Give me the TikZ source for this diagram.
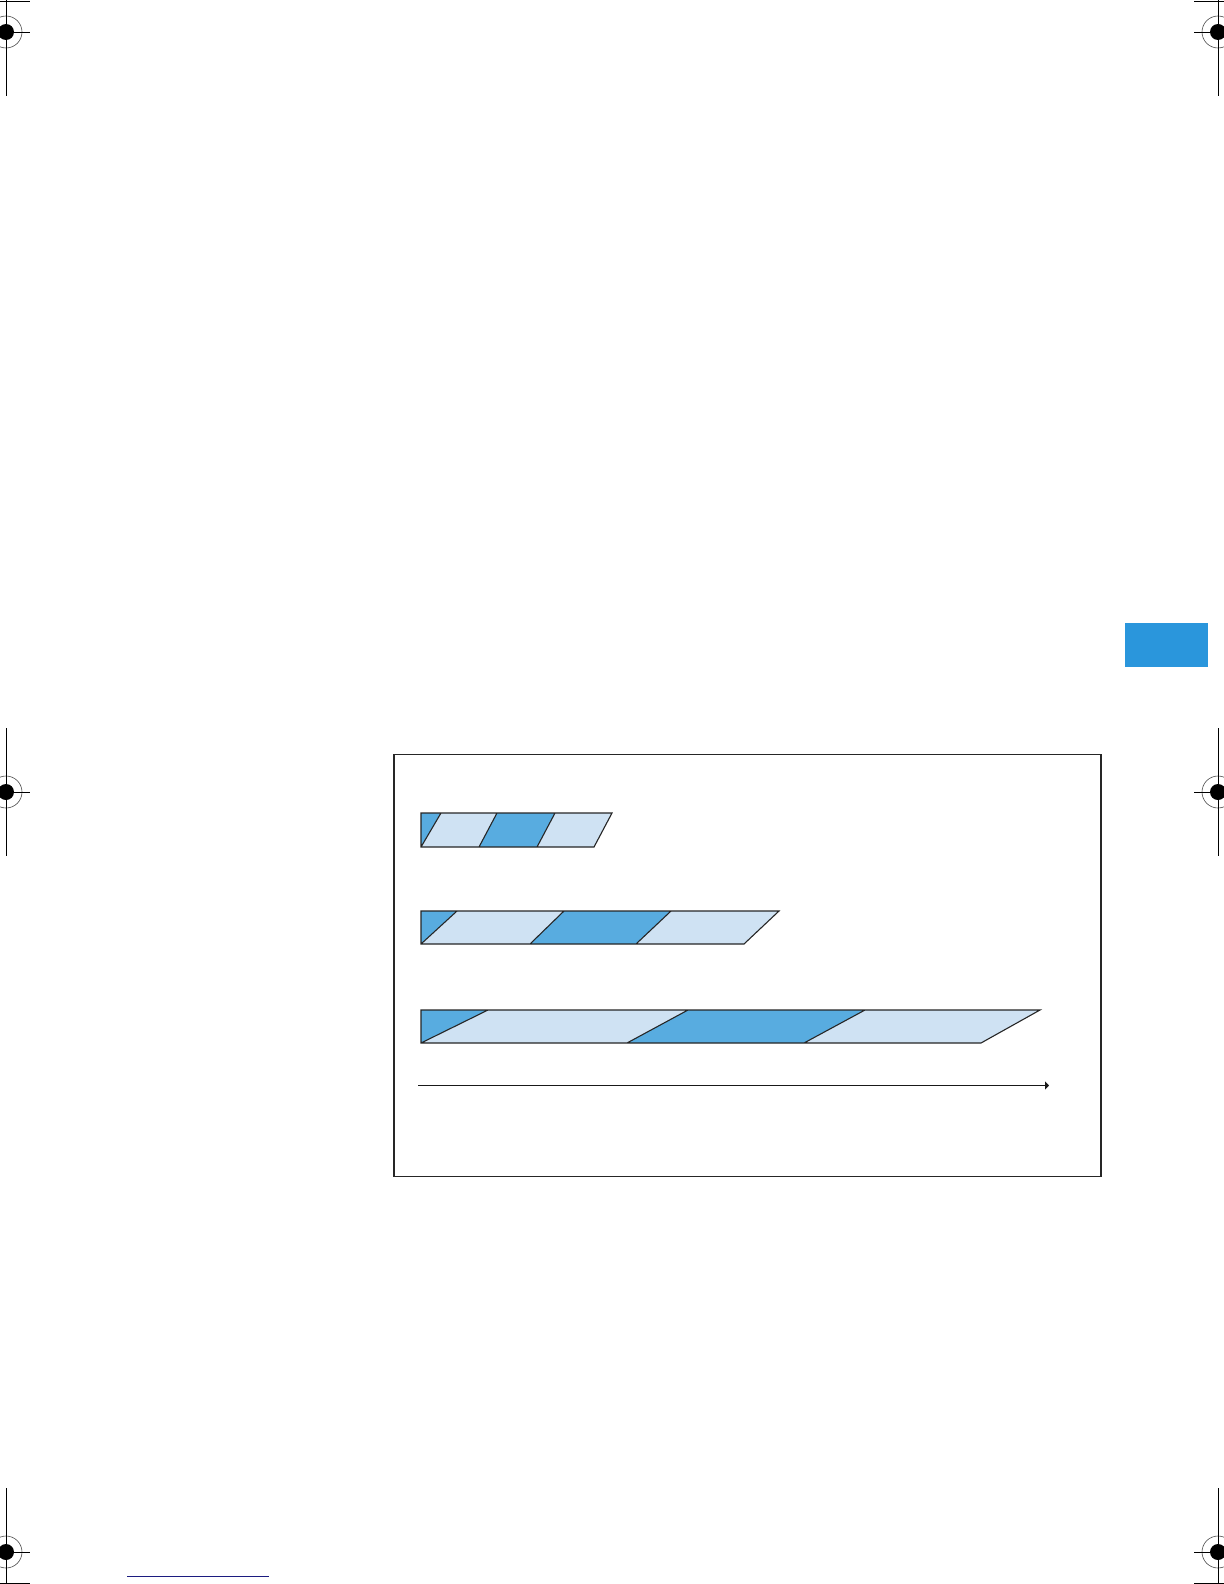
\documentclass[tikz,border=0pt]{standalone}
\usetikzlibrary{arrows.meta}
\definecolor{stripedark}{HTML}{58ACE0}
\definecolor{stripelight}{HTML}{CFE2F3}
\definecolor{tabblue}{HTML}{2A96DC}
\definecolor{rulenavy}{HTML}{1C1C80}

\begin{document}
\begin{tikzpicture}[x=0.5pt, y=-0.5pt,
            frm/.style={draw=black!85, line width=0.75pt},
            darkseg/.style={fill=stripedark},
            lightseg/.style={fill=stripelight},
            barline/.style={draw=black!85, line width=0.55pt, line join=miter},
            axis/.style={draw=black!90, line width=0.5pt, -{Triangle[length=2pt, width=4pt]}},
            reg/.style={draw=black, line width=0.35pt},
            regring/.style={draw=black!70, line width=0.3pt}]
            \useasboundingbox (0,0) rectangle (1224,1584);
            \clip (0,0) rectangle (1224,1584);
            % registration marks
            \foreach \mx/\my in {6/32, 1218/32, 6/792, 1218/792, 6/1552, 1218/1552} {
                \draw[regring] (\mx,\my) circle (16);
                \fill (\mx,\my) circle (8);
                \draw[reg] (\mx-24,\my) -- (\mx+24,\my) (\mx,\my-64) -- (\mx,\my+64);
            }
            \draw[reg] (0,1) -- (30,1) (1194,1) -- (1224,1);
            \draw[reg] (0,1583) -- (30,1583) (1194,1583) -- (1224,1583);
            % tab and footer rule
            \fill[tabblue] (1125,623) rectangle (1208,667);
            \draw[rulenavy, line width=0.5pt] (127,1576) -- (269,1576);
            % frame
            \coordinate (frameNW) at (394,754.5);
            \coordinate (frameSE) at (1101,1176.5);
            \draw[frm] (frameNW) rectangle (frameSE);
            % striped bars
            \foreach \yt/\yb/\xa/\xbb/\xbt/\xcb/\xct/\xdb/\xdt in {
                    813/847/441/479/497/537/555/594/612,
                    911/944/457/530/564/636/671/744/779,
                    1010/1043/488/627/688/804/865/981/1040} {
                \fill[darkseg] (421,\yt) -- (\xa,\yt) -- (421,\yb) -- cycle;
                \fill[lightseg] (\xa,\yt) -- (\xbt,\yt) -- (\xbb,\yb) -- (421,\yb) -- cycle;
                \fill[darkseg] (\xbt,\yt) -- (\xct,\yt) -- (\xcb,\yb) -- (\xbb,\yb) -- cycle;
                \fill[lightseg] (\xct,\yt) -- (\xdt,\yt) -- (\xdb,\yb) -- (\xcb,\yb) -- cycle;
                \draw[barline] (421,\yt) -- (\xdt,\yt) -- (\xdb,\yb) -- (421,\yb) -- cycle
                    (421,\yb) -- (\xa,\yt) (\xbb,\yb) -- (\xbt,\yt) (\xcb,\yb) -- (\xct,\yt);
            }
            % time axis
            \coordinate (axisL) at (418,1085.5);
            \coordinate (axisR) at (1049,1085.5);
            \draw[axis] (axisL) -- (axisR);
        \end{tikzpicture}
\end{document}
